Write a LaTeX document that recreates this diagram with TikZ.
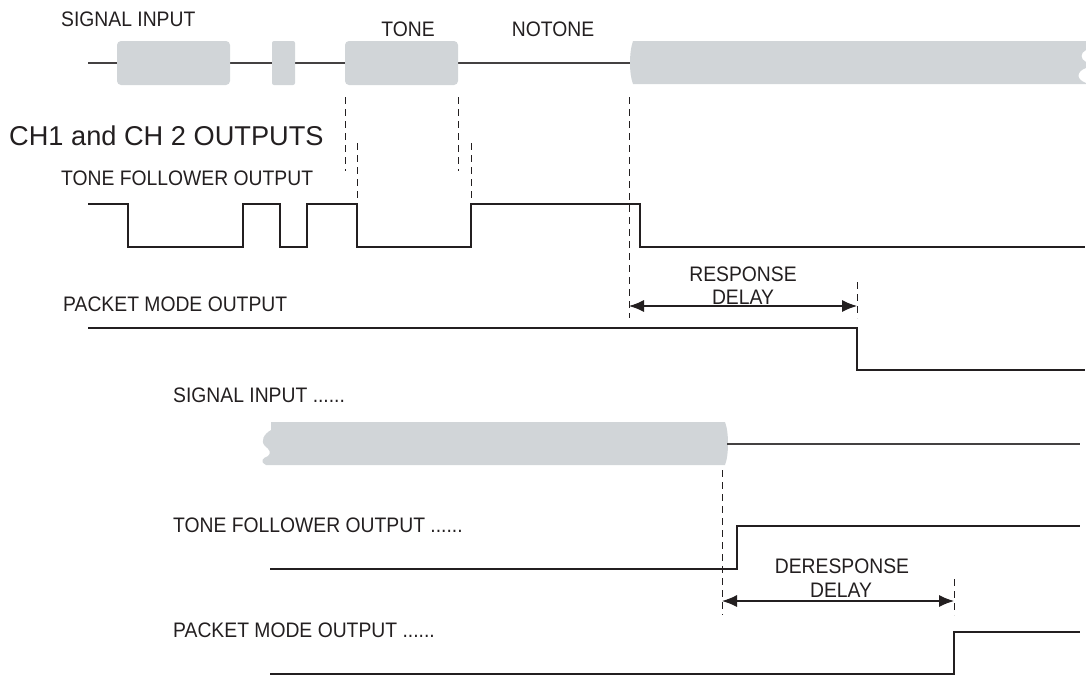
\documentclass[tikz,border=0pt]{standalone}
\usepackage{fontspec}
\setmainfont{Liberation Sans}
\newfontfamily\condfont{Liberation Sans}[FakeStretch=0.92]
\usepackage{xcolor}
\usepackage{tikz}
\usetikzlibrary{positioning, arrows.meta}
\definecolor{ink}{HTML}{231F20}
\definecolor{burstgray}{HTML}{D1D5D8}

\begin{document}
\begin{tikzpicture}[x=1pt, y=-1pt,
    wave/.style={ink, line width=1.8pt},
    sigline/.style={ink!85, line width=1.2pt},
    burst/.style={fill=burstgray, draw=none},
    guide/.style={ink, line width=1pt, dash pattern=on 7pt off 5pt},
    delay/.style={ink, line width=1.1pt, {Latex[length=15pt,width=12pt]}-{Latex[length=15pt,width=12pt]}},
    lbl/.style={inner sep=0pt, anchor=base west, text=ink, font=\condfont\fontsize{21}{24}\selectfont},
    dlbl/.style={lbl, anchor=base}
]
\useasboundingbox (0,0) rectangle (1086,681);

% upper signal input
\draw[sigline] (88,63) -- (632,63);
\fill[burst, rounded corners=4pt] (117,41) rectangle (230,85);
\fill[burst, rounded corners=2pt] (272,41) rectangle (295,85);
\fill[burst, rounded corners=4pt] (345,41) rectangle (458,85);
\fill[burst] (633,41) -- (1086,41) -- (1086,50) .. controls (1080,53) and (1080,59) .. (1086,62)
    -- (1086,68) .. controls (1077,71) and (1075,79) .. (1086,83) -- (1086,84) -- (633,84)
    .. controls (629,74) and (629,52) .. cycle;

\node[lbl] (sigin) at (61,26) {SIGNAL INPUT};
\node[dlbl] (tone) at (408,36) {TONE};
\node[dlbl] (notone) at (553,36) {NOTONE};
\node[lbl, font=\fontsize{27.2}{30}\selectfont] (chout) at (9,145.7) {CH1 and CH 2 OUTPUTS};
\node[lbl] (tfout) at (61,185) {TONE FOLLOWER OUTPUT};
\node[lbl] (pmout) at (63,311.7) {PACKET MODE OUTPUT};

% guide lines
\foreach \x/\top/\bot in {345/97/171, 357/143/205, 458/97/171, 471/143/205, 629/97/318, 857/282/318}
    \draw[guide] (\x,\top) -- (\x,\bot);

% upper outputs
\draw[wave] (88,204) -| (128,247) -| (243,204) -| (280,247) -| (307,204) -| (357,247)
    -| (471,204) -| (640,247) -- (1085,247);
\draw[wave] (88,328) -| (857,370) -- (1085,370);

\coordinate (rs) at (629,306);
\coordinate (re) at (857,306);
\draw[delay] (rs) -- (re);
\node[dlbl] (resp) at (743,281) {RESPONSE};
\node[dlbl] (respd) at (743,304) {DELAY};

% lower signal input
\node[lbl] (sigin2) at (173,402) {SIGNAL INPUT ......};
\fill[burst] (271,422) -- (725,422) .. controls (729,432) and (729,455) .. (725,465) -- (266,465)
    .. controls (259,461) and (263,458) .. (268,456) .. controls (272,453) and (269,449) .. (265,446)
    .. controls (260,441) and (264,434) .. (271,430) -- cycle;
\draw[sigline] (727,444) -- (1080,444);

\node[lbl] (tfout2) at (173,532) {TONE FOLLOWER OUTPUT ......};
\node[lbl] (pmout2) at (173,637) {PACKET MODE OUTPUT ......};

\foreach \x/\top/\bot in {722/470/615, 954/579/615}
    \draw[guide] (\x,\top) -- (\x,\bot);

% lower outputs
\draw[wave] (270,569) -| (737,526) -- (1080,526);
\draw[wave] (270,674) -| (954,632) -- (1080,632);

\coordinate (ds) at (722,601);
\coordinate (de) at (954,601);
\draw[delay] (ds) -- (de);
\node[dlbl] (deresp) at (842,573) {DERESPONSE};
\node[dlbl] (derespd) at (841,597) {DELAY};
\end{tikzpicture}
\end{document}
